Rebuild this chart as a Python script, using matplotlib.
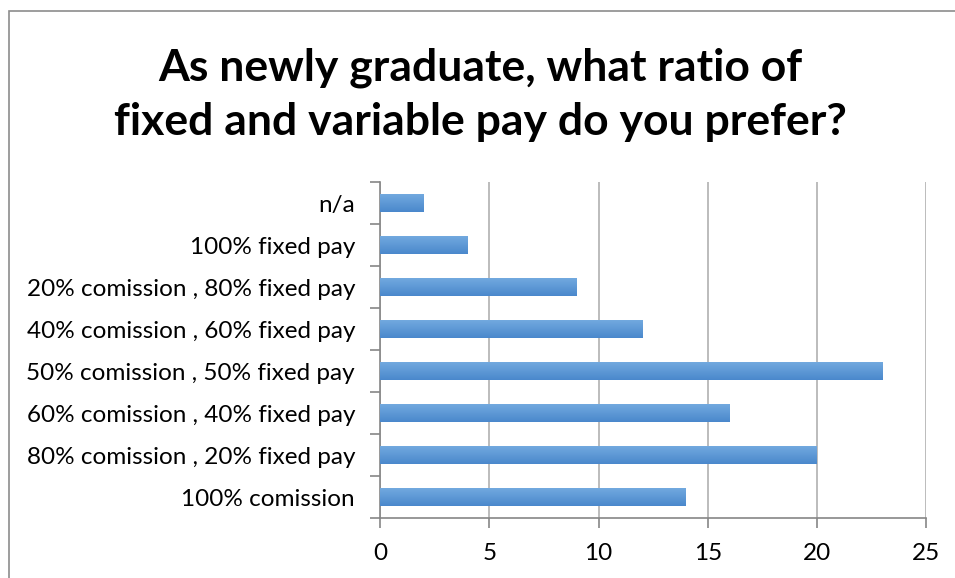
import numpy as np
import matplotlib.pyplot as plt
from matplotlib.patches import Rectangle
from matplotlib.colors import LinearSegmentedColormap

# categories listed bottom to top
categories = [
    "100% comission",
    "80% comission , 20% fixed pay",
    "60% comission , 40% fixed pay",
    "50% comission , 50% fixed pay",
    "40% comission , 60% fixed pay",
    "20% comission , 80% fixed pay",
    "100% fixed pay",
    "n/a",
]
counts = [14, 20, 16, 23, 12, 9, 4, 2]
x_ticks = [0, 5, 10, 15, 20, 25]

plt.rcParams["font.family"] = ["Lato", "DejaVu Sans"]

fig = plt.figure(figsize=(9.55, 5.78), dpi=100)
ax = fig.add_axes([0.398, 0.1038, 0.5718, 0.5812])

# outer chart border
fig.patches.append(Rectangle((8.5 / 955, -0.05), 1.2, 1.05 - 10.5 / 578,
                             transform=fig.transFigure, fill=False,
                             edgecolor="#8c8c8c", linewidth=1.2))

bars = ax.barh(range(len(categories)), counts, height=0.43,
               color="#5b9bd5", zorder=2)

# vertical gradient inside each bar
cmap = LinearSegmentedColormap.from_list("bar", ["#4a88cc", "#74abe0"])
grad = np.linspace(0, 1, 64).reshape(-1, 1)
for b in bars:
    x0, y0 = b.get_x(), b.get_y()
    w, h = b.get_width(), b.get_height()
    im = ax.imshow(grad, cmap=cmap, aspect="auto", origin="lower",
                   extent=(x0, x0 + w, y0, y0 + h), zorder=3)
    im.set_clip_path(b)

ax.set_xlim(0, 25)
ax.set_ylim(-0.5, len(categories) - 0.5)
ax.set_xticks(x_ticks)
ax.set_yticks(range(len(categories)))
ax.set_yticklabels(categories)
ax.set_yticks(np.arange(-0.5, len(categories), 1), minor=True)

ax.tick_params(axis="y", which="major", length=0, pad=18, labelsize=17.5)
ax.tick_params(axis="y", which="minor", length=7, color="#868686", width=1.2)
ax.tick_params(axis="x", length=7, color="#868686", width=1.2, pad=11,
               labelsize=17.5)

ax.grid(axis="x", color="#b0b0b0", linewidth=1.2, zorder=0)
for s in ["top", "right"]:
    ax.spines[s].set_visible(False)
for s in ["left", "bottom"]:
    ax.spines[s].set_color("#868686")
    ax.spines[s].set_linewidth(1.2)

fig.text(0.503, 0.836, "As newly graduate, what ratio of\nfixed and variable pay do you prefer?",
         ha="center", va="center", fontsize=32, fontweight="bold",
         linespacing=1.4)

fig.savefig("out.png", dpi=100)
